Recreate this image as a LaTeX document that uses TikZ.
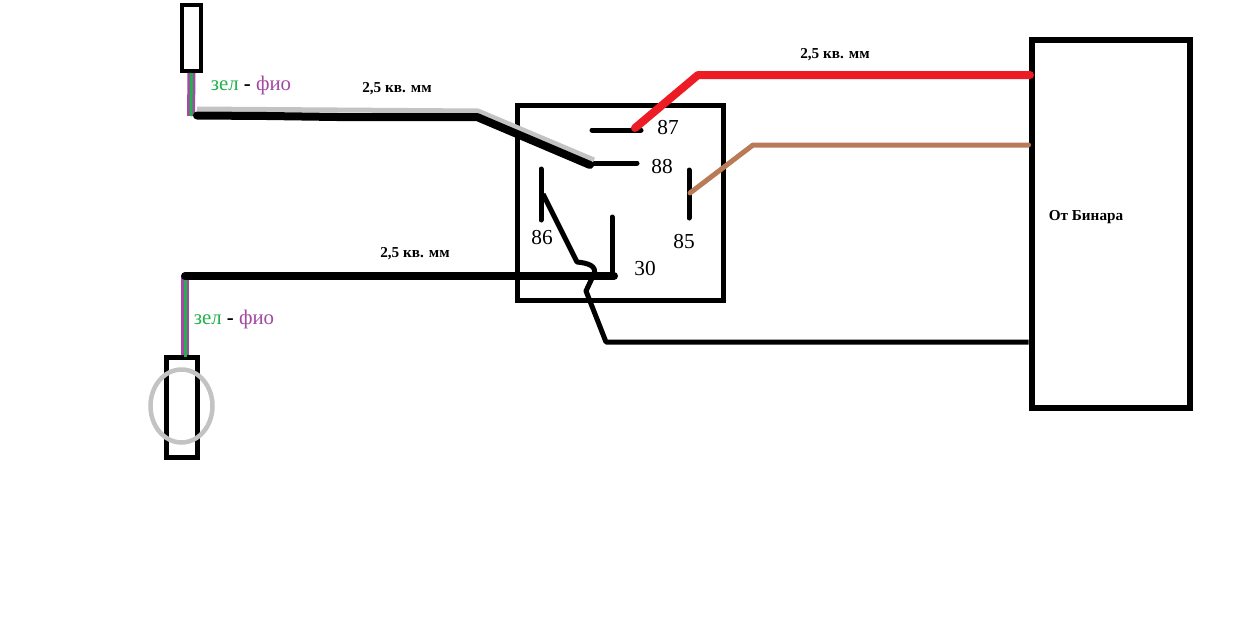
\documentclass[tikz,border=0pt]{standalone}
\usepackage{fontspec}
\setmainfont{Liberation Serif}
\usepackage{color}
\usetikzlibrary{shapes,calc}
\definecolor{vert}{HTML}{22B14C}
\definecolor{fio}{HTML}{A349A4}
\definecolor{rouge}{HTML}{ED1C24}
\definecolor{brun}{HTML}{B97A57}
\definecolor{gris}{HTML}{C3C3C3}
\newcommand{\px}{0.75pt}
\tikzset{fig/.style={
    line width=5*\px,
    draw=black,
    inner sep=0pt},
  wire/.style={
    line width=#1*\px,
    line join=round},
  contact/.style={
    line width=5*\px,
    line cap=round},
  num/.style={
    font=\fontsize{16pt}{18pt}\selectfont},
  gauge/.style={
    font=\fontsize{11.4pt}{13pt}\selectfont\bfseries},
  colours/.style={
    font=\fontsize{15.6pt}{18pt}\selectfont}}
\newcommand{\zelfio}{{\color{vert}зел} \textbf{-} {\color{fio}фио}}

\begin{document}
\begin{tikzpicture}[x=0.75pt, y=-0.75pt]
\useasboundingbox[fill=white] (0,0) rectangle (1240,636);

\coordinate (T1) at (191.5,38);
\coordinate (T2) at (182,407.5);
\coordinate (R) at (620.5,203);
\coordinate (B) at (1110.5,223.5);

\node[fig,
  line width=4*\px,
  minimum width=19*\px,
  minimum height=66*\px] (top) at (T1) {};

\node[fig,
  minimum width=31*\px,
  minimum height=100*\px] (bottom) at (T2) {};

\node[fig,
  minimum width=206*\px,
  minimum height=195*\px] (relay) at (R) {};

\node[fig,
  line width=6*\px,
  minimum width=158*\px,
  minimum height=368*\px] (binar) at (B) {};

\node[
  ellipse,
  draw=gris,
  line width=4.5*\px,
  inner sep=0pt,
  minimum width=62*\px,
  minimum height=73*\px] (clamp) at (181.5,406) {};

% the contacts
\draw[contact] (592,130) -- (641,130);
\draw[contact] (592,163) -- (637,163);
\draw[contact] (689,170) -- (689,218);
\draw[contact] (541,169) -- (541,220);
\draw[contact] (612,217) -- (612,276);

% top wire
\coordinate (A1) at (191,116);
\coordinate (A2) at (477,117);
\coordinate (A3) at (590,165);
\coordinate (G1) at (197,109);
\coordinate (G2) at (478,111);
\coordinate (G3) at (594,160);
\draw[wire=8,fio] (top.south) -- (A1);
\draw[wire=3,vert] (top.south) -- (A1);
\draw[wire=5,gris] (G1) -- (G2) -- (G3);
\draw[wire=8,line cap=round] (197,115.5) -- (267,116) -- (337,117) -- (A2) -- (A3);

% bottom wire
\coordinate (C1) at (185,276);
\coordinate (C2) at (614,276);
\draw[wire=8,fio] (C1) -- ($(bottom.north)+(3,0)$);
\draw[wire=3,vert] (C1) -- ($(bottom.north)+(3,2)$);
\draw[wire=8,line cap=round] (C1) -- (C2);

% red and brown wires
\coordinate (D1) at (698,75);
\coordinate (E1) at (753,145);
\draw[wire=8,rouge,line cap=round] (635,128) -- (D1) -- (1030,75);
\draw[wire=5,brun,line cap=round] (690,193) -- (E1) -- (binar.west |- E1);

% coil wire
\coordinate (F1) at (577,262);
\coordinate (F2) at (586,291);
\coordinate (F3) at (606,342);
\draw[wire=5] (543,194) -- (F1)
  .. controls (588,263) and (597,266) .. (594,274)
  -- (F2) -- (F3) -- (binar.west |- F3);

\node[colours] (lab1) at (251,85) {\zelfio};
\node[colours] (lab2) at (234,319) {\zelfio};
\node[gauge] (sec1) at (397,89) {2,5 кв. мм};
\node[gauge] (sec2) at (415,254) {2,5 кв. мм};
\node[gauge] (sec3) at (835,55) {2,5 кв. мм};
\node[gauge] (name) at (1086,217) {От Бинара};
\node[num] (n87) at (668,128) {87};
\node[num] (n88) at (662,167) {88};
\node[num] (n85) at (684,242) {85};
\node[num] (n86) at (542,238) {86};
\node[num] (n30) at (645,269) {30};

\end{tikzpicture}
\end{document}
